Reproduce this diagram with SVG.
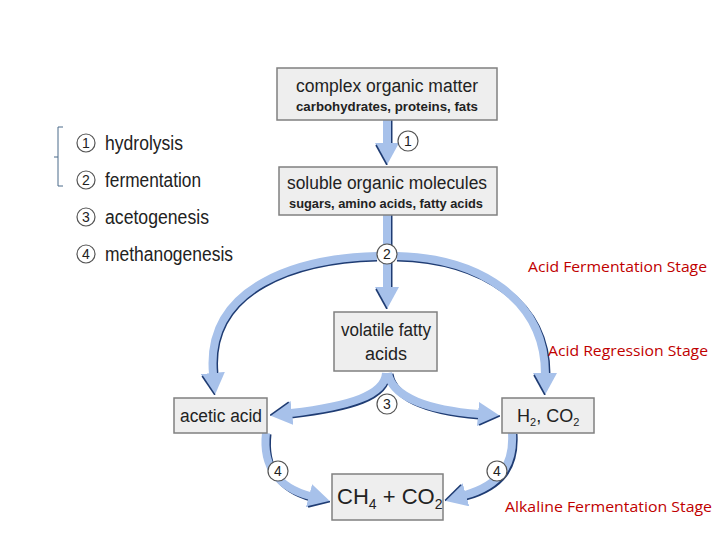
<svg xmlns="http://www.w3.org/2000/svg" width="720" height="540" viewBox="0 0 720 540">
<defs>
<marker id="ah" viewBox="0 0 22 24" refX="1" refY="12" markerWidth="22" markerHeight="24" markerUnits="userSpaceOnUse" orient="auto">
<path d="M0,0 L22,12 L0,24 Z" fill="#a7c1ea"/>
<path d="M2,23 L22,12" stroke="#1f3c73" stroke-width="1.6" fill="none"/>
</marker>
</defs>
<style>
.box{fill:#eeeeee;stroke:#808080;stroke-width:1.5}
.t{font-family:"Liberation Sans",Arial,sans-serif;fill:#222}
.big{font-size:18px}
.lg{font-size:20px}
.sub{font-size:13px;font-weight:bold}
.sh{fill:none;stroke:#1f3c73;stroke-width:7}
.ln{fill:none;stroke:#a7c1ea;stroke-width:8}
.nc{fill:#fff;stroke:#555;stroke-width:1.2}
.num{font-family:"Liberation Sans",Arial,sans-serif;font-size:14px;fill:#222;text-anchor:middle}
.red{font-family:"Open Sans","Liberation Sans",sans-serif;font-size:15px;fill:#c00000}
</style>
<rect width="720" height="540" fill="#fff"/>

<g id="legend">
<path d="M63,127 L58,127 L58,186 L63,186 M58,157 L54,157" fill="none" stroke="#4a6a8a" stroke-width="1"/>
<circle class="nc" cx="86" cy="143" r="9"/><text class="num" x="86" y="148">1</text>
<text class="t lg" x="105" y="150" textLength="78" lengthAdjust="spacingAndGlyphs">hydrolysis</text>
<circle class="nc" cx="86" cy="180" r="9"/><text class="num" x="86" y="185">2</text>
<text class="t lg" x="105" y="187" textLength="96" lengthAdjust="spacingAndGlyphs">fermentation</text>
<circle class="nc" cx="86" cy="217" r="9"/><text class="num" x="86" y="222">3</text>
<text class="t lg" x="105" y="224" textLength="104" lengthAdjust="spacingAndGlyphs">acetogenesis</text>
<circle class="nc" cx="86" cy="254" r="9"/><text class="num" x="86" y="259">4</text>
<text class="t lg" x="105" y="261" textLength="128" lengthAdjust="spacingAndGlyphs">methanogenesis</text>
</g>

<g id="connectors">
<path class="sh" d="M389,120 L389,144"/>
<path class="ln" d="M387,120 L387,144" marker-end="url(#ah)"/>
<path class="sh" d="M389,215 L389,288"/>
<path class="ln" d="M387,215 L387,288" marker-end="url(#ah)"/>
<path class="sh" d="M377,258 C300,260 207,287 215,374"/>
<path class="ln" d="M377,256 C300,258 205,285 213,374" marker-end="url(#ah)"/>
<path class="sh" d="M397,258 C482,260 547,302 547,374"/>
<path class="ln" d="M397,256 C480,258 545,300 545,374" marker-end="url(#ah)"/>
<path class="sh" d="M387,374 C387,397 352,408 291,415"/>
<path class="ln" d="M386,373 C385,395 350,406 291,413" marker-end="url(#ah)"/>
<path class="sh" d="M390,374 C394,400 432,412 479,416"/>
<path class="ln" d="M388,373 C392,398 430,410 479,414" marker-end="url(#ah)"/>
<path class="sh" d="M268,434 C264,470 282,490 311,498"/>
<path class="ln" d="M266,433 C262,468 280,488 310,496" marker-end="url(#ah)"/>
<path class="sh" d="M514,434 C516,467 502,487 466,497"/>
<path class="ln" d="M512,433 C514,465 500,485 465,495" marker-end="url(#ah)"/>
<circle class="nc" cx="408" cy="141" r="10"/><text class="num" x="408" y="146">1</text>
<circle class="nc" cx="387" cy="254" r="10"/><text class="num" x="387" y="259">2</text>
<circle class="nc" cx="387" cy="404" r="10"/><text class="num" x="387" y="409">3</text>
<circle class="nc" cx="278" cy="471" r="10"/><text class="num" x="278" y="476">4</text>
<circle class="nc" cx="497" cy="471" r="10"/><text class="num" x="497" y="476">4</text>
</g>

<g id="complex">
<rect class="box" x="277" y="68" width="220" height="52"/>
<text class="t big" x="387" y="92" text-anchor="middle" textLength="182" lengthAdjust="spacingAndGlyphs">complex organic matter</text>
<text class="t sub" x="387" y="111" text-anchor="middle" textLength="182" lengthAdjust="spacingAndGlyphs">carbohydrates, proteins, fats</text>
</g>
<g id="soluble">
<rect class="box" x="279" y="167" width="218" height="48"/>
<text class="t big" x="387" y="189" text-anchor="middle" textLength="200" lengthAdjust="spacingAndGlyphs">soluble organic molecules</text>
<text class="t sub" x="386" y="208" text-anchor="middle" textLength="194" lengthAdjust="spacingAndGlyphs">sugars, amino acids, fatty acids</text>
</g>
<g id="vfa">
<rect class="box" x="334" y="312" width="103" height="59"/>
<text class="t big" x="386" y="336" text-anchor="middle" textLength="90" lengthAdjust="spacingAndGlyphs">volatile fatty</text>
<text class="t big" x="386" y="360" text-anchor="middle">acids</text>
</g>
<g id="acetic">
<rect class="box" x="174" y="398" width="93" height="35"/>
<text class="t big" x="221" y="422" text-anchor="middle" textLength="82" lengthAdjust="spacingAndGlyphs">acetic acid</text>
</g>
<g id="h2co2">
<rect class="box" x="502" y="398" width="92" height="35"/>
<text class="t big" x="517" y="422">H<tspan font-size="11" dy="4">2</tspan><tspan dy="-4">, CO</tspan><tspan font-size="11" dy="4">2</tspan></text>
</g>
<g id="ch4">
<rect class="box" x="332" y="474" width="111" height="46"/>
<text class="t" font-size="22" x="337" y="504">CH<tspan font-size="14" dy="5">4</tspan><tspan dy="-5"> + CO</tspan><tspan font-size="14" dy="5">2</tspan></text>
</g>

<g id="stages">
<text class="red" x="528" y="272" textLength="179" lengthAdjust="spacingAndGlyphs">Acid Fermentation Stage</text>
<text class="red" x="548" y="356" textLength="160" lengthAdjust="spacingAndGlyphs">Acid Regression Stage</text>
<text class="red" x="505" y="512" textLength="207" lengthAdjust="spacingAndGlyphs">Alkaline Fermentation Stage</text>
</g>
</svg>
